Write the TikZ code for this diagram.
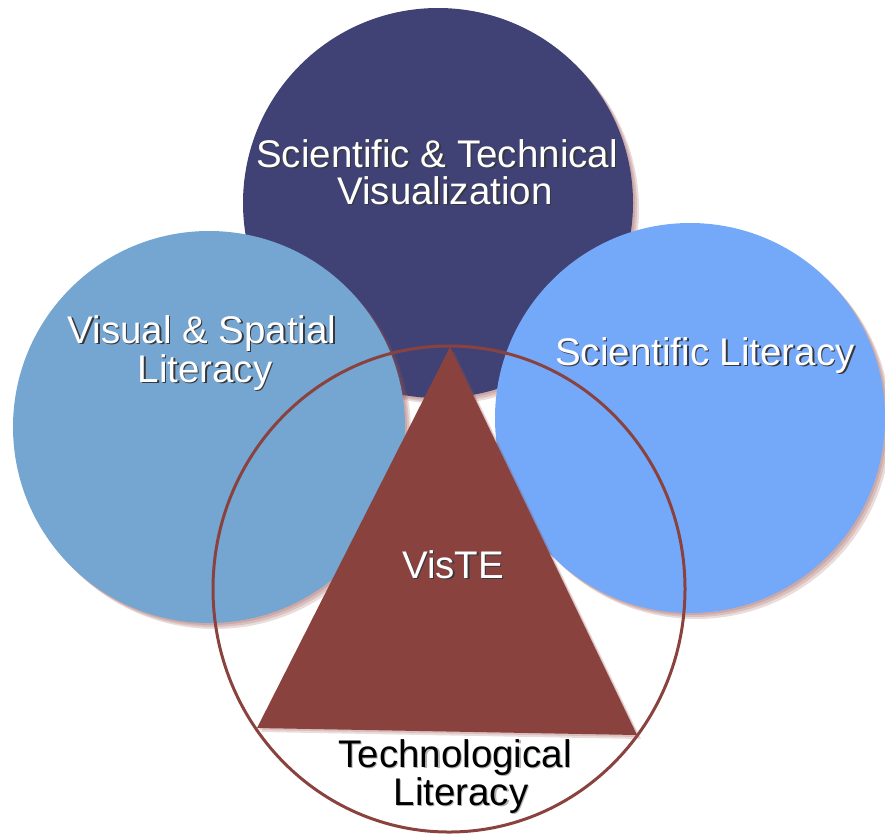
\documentclass[tikz,border=0pt]{standalone}
\usepackage{fontspec}
\setmainfont{Liberation Sans}
\definecolor{navy}{RGB}{64,66,117}
\definecolor{leftblue}{RGB}{116,166,209}
\definecolor{rightblue}{RGB}{116,169,249}
\definecolor{brick}{RGB}{138,66,63}
\definecolor{shadowc}{RGB}{150,80,75}
\definecolor{txtshadow}{RGB}{55,55,60}
\newcommand\shlabel[5]{%
  \node[lbl, text=#5] (#1s) at (#2+1.6,#3+1.6) {#4};
  \node[lbl] (#1) at (#2,#3) {#4};}
\begin{document}
\begin{tikzpicture}[x=1pt,y=-1pt,
  lbl/.style={anchor=base, inner sep=0pt, text=white, font=\fontsize{38.5}{40}\selectfont},
  dlbl/.style={lbl, text=black},
  shade1/.style={fill=shadowc, opacity=0.2},
]
\useasboundingbox (0,0) rectangle (885,838);
% top circle
\foreach \d in {2,4,6} \fill[shade1] (438+\d,203+\d) circle[radius=195];
\fill[navy] (438,203) circle[radius=195];
% left and right circles
\foreach \d in {2,4,6} {
  \fill[shade1] (209+\d,427+\d) circle[radius=196];
  \fill[shade1] (690+\d,418+\d) circle[radius=195];
}
\fill[leftblue] (209,427) circle[radius=196];
\fill[rightblue] (690,418) circle[radius=195];
% bottom circle outline
\draw[brick, line width=3pt] (449,589) ellipse[x radius=236, y radius=243];
% triangle
\foreach \d in {2,4} \fill[shade1] (450+\d,347+\d) -- (257+\d,728+\d) -- (637+\d,735+\d) -- cycle;
\fill[brick] (450,347) -- (257,728) -- (637,735) -- cycle;
% labels
\shlabel{t1}{437}{167}{Scientific \& Technical}{txtshadow}
\shlabel{t2}{445}{204}{Visualization}{txtshadow}
\shlabel{l1}{202}{343}{Visual \& Spatial}{txtshadow}
\shlabel{l2}{205}{382}{Literacy}{txtshadow}
\shlabel{r1}{705}{365}{Scientific Literacy}{txtshadow}
\shlabel{v1}{453}{578}{VisTE}{txtshadow}
\node[dlbl, text=gray!60] (b1s) at (456.3,768.3) {Technological};
\node[dlbl] (b1) at (455,767) {Technological};
\node[dlbl, text=gray!60] (b2s) at (462.3,806.3) {Literacy};
\node[dlbl] (b2) at (461,805) {Literacy};
\end{tikzpicture}
\end{document}
